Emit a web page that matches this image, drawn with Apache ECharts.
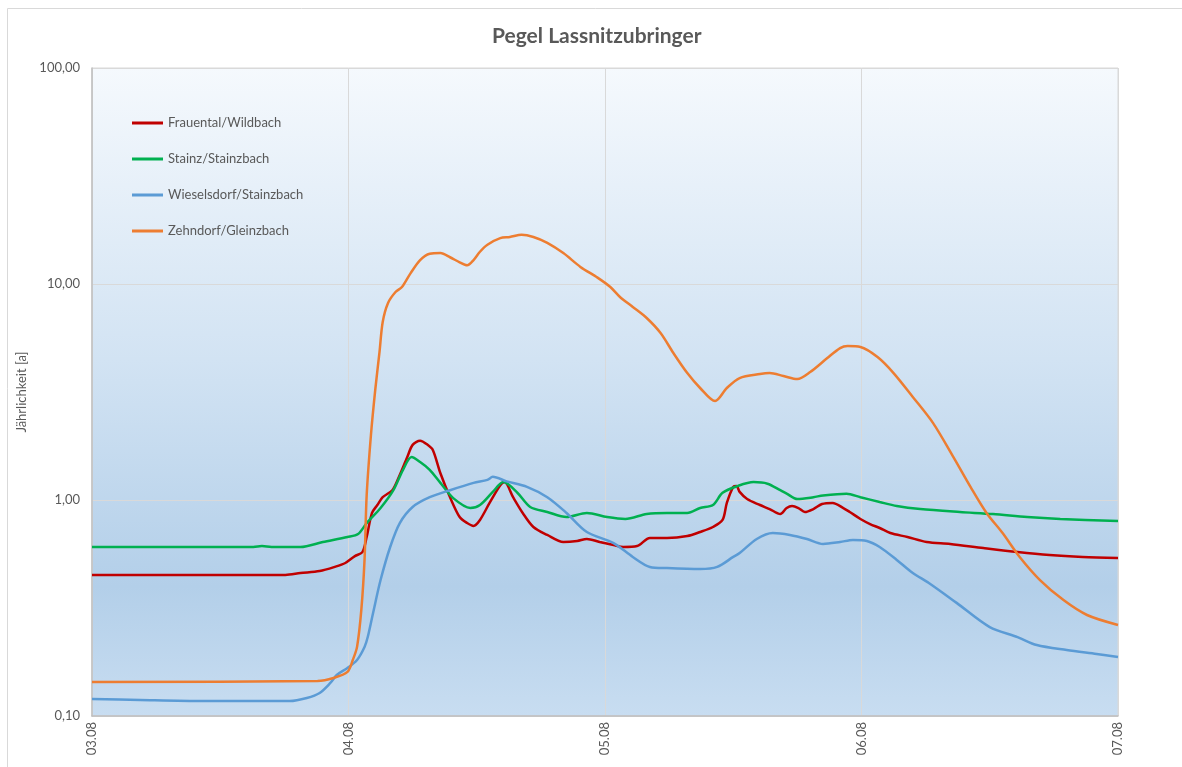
<!DOCTYPE html>
<html>
<head>
<meta charset="utf-8">
<title>Pegel Lassnitzubringer</title>
<script src="https://cdn.jsdelivr.net/npm/echarts@6.0.0/dist/echarts.min.js"></script>
<style>
  html, body { margin: 0; padding: 0; background: #fff; }
  #chart { width: 1182px; height: 767px; }
</style>
</head>
<body>
<div id="chart"></div>
<script>
// Stunden ab 03.08 00:00, Jährlichkeit [a]
const dayLabels = ['03.08', '04.08', '05.08', '06.08', '07.08'];
const seriesNames = ['Frauental/Wildbach', 'Stainz/Stainzbach', 'Wieselsdorf/Stainzbach', 'Zehndorf/Gleinzbach'];

const frauental = [
  [0, 0.45], [18.1, 0.45], [19.5, 0.459], [21.3, 0.469], [22.7, 0.49], [23.7, 0.511], [24.6, 0.55],
  [25.3, 0.574], [25.7, 0.674], [26.2, 0.871], [26.7, 0.948], [27.2, 1.03], [28.1, 1.11], [28.6, 1.24],
  [29.5, 1.58], [30.0, 1.80], [30.7, 1.88], [31.4, 1.80], [31.9, 1.70], [32.6, 1.33], [33.5, 1.03],
  [34.4, 0.834], [35.1, 0.782], [35.7, 0.758], [36.3, 0.808], [37.2, 0.969], [38.2, 1.17], [38.6, 1.21],
  [39.4, 1.03], [40.3, 0.871], [41.3, 0.75], [42.6, 0.689], [44.1, 0.639], [45.4, 0.646], [46.3, 0.66],
  [47.5, 0.639], [48.8, 0.619], [49.7, 0.606], [51.0, 0.612], [52.2, 0.667], [53.8, 0.667], [55.7, 0.681],
  [56.9, 0.711], [58.1, 0.75], [59.0, 0.808], [59.4, 0.969], [60.0, 1.15], [60.3, 1.16], [60.6, 1.09],
  [61.3, 1.01], [62.5, 0.948], [63.4, 0.908], [64.4, 0.861], [65.0, 0.918], [65.5, 0.938], [66.1, 0.918],
  [66.7, 0.88], [67.5, 0.908], [68.3, 0.958], [69.3, 0.969], [70.3, 0.918], [70.9, 0.88], [71.9, 0.817],
  [72.8, 0.774], [73.7, 0.742], [74.7, 0.703], [76.3, 0.674], [78.1, 0.639], [80.3, 0.626], [83.4, 0.599],
  [86.6, 0.574], [89.6, 0.556], [92.7, 0.545], [96, 0.539]
];

const stainz = [
  [0, 0.606], [15.1, 0.606], [15.9, 0.612], [16.8, 0.606], [19.5, 0.606], [21.6, 0.639], [23.9, 0.674],
  [24.9, 0.696], [25.7, 0.782], [27.0, 0.918], [28.2, 1.11], [29.1, 1.38], [29.9, 1.58], [30.7, 1.50],
  [31.6, 1.38], [32.6, 1.20], [33.8, 1.02], [35.4, 0.918], [36.3, 0.948], [37.5, 1.09], [38.5, 1.21],
  [39.8, 1.08], [41.0, 0.928], [42.6, 0.88], [44.4, 0.834], [46.3, 0.871], [48.2, 0.834], [49.9, 0.817],
  [51.9, 0.861], [53.8, 0.871], [55.7, 0.871], [56.9, 0.918], [58.1, 0.948], [59.0, 1.08], [60.4, 1.16],
  [61.9, 1.21], [63.2, 1.19], [64.4, 1.11], [65.0, 1.07], [66.0, 1.01], [67.5, 1.03], [68.4, 1.05],
  [70.6, 1.07], [71.9, 1.03], [73.7, 0.979], [75.3, 0.938], [77.5, 0.908], [81.2, 0.88], [84.3, 0.861],
  [87.5, 0.834], [90.6, 0.817], [96, 0.799]
];

const wieselsdorf = [
  [0, 0.12], [4.5, 0.1186], [10.4, 0.1173], [18.5, 0.1173], [20.1, 0.1212], [21.3, 0.1278], [22.3, 0.1422],
  [22.9, 0.1548], [23.9, 0.1668], [24.8, 0.1817], [25.5, 0.2087], [25.8, 0.232], [26.3, 0.30], [27.0, 0.426],
  [27.9, 0.606], [28.8, 0.782], [30.0, 0.928], [31.6, 1.03], [33.5, 1.11], [35.7, 1.20], [37.0, 1.24],
  [37.5, 1.28], [38.8, 1.22], [40.7, 1.15], [42.6, 1.03], [44.4, 0.871], [46.3, 0.711], [48.8, 0.632],
  [50.6, 0.545], [52.2, 0.49], [53.8, 0.484], [56.9, 0.479], [58.5, 0.49], [60.0, 0.545], [60.6, 0.568],
  [62.2, 0.66], [63.7, 0.703], [65.3, 0.689], [66.9, 0.66], [68.4, 0.626], [70.0, 0.639], [71.2, 0.653],
  [72.5, 0.646], [73.7, 0.606], [75.3, 0.528], [76.8, 0.459], [78.3, 0.413], [80.9, 0.334], [84.0, 0.258],
  [86.6, 0.232], [88.4, 0.213], [91.2, 0.202], [94.0, 0.1936], [96, 0.1875]
];

const zehndorf = [
  [0, 0.1437], [21.1, 0.1452], [22.6, 0.15], [23.9, 0.16], [24.4, 0.1817], [24.8, 0.209], [25.2, 0.31],
  [25.5, 0.528], [25.7, 1.05], [26.1, 2.0], [26.5, 3.23], [26.9, 4.84], [27.2, 6.67], [27.7, 8.17],
  [28.4, 9.18], [29.0, 9.68], [29.8, 11.2], [30.7, 12.9], [31.6, 13.8], [32.6, 13.9], [33.5, 13.3],
  [34.4, 12.6], [35.1, 12.2], [35.7, 12.9], [36.3, 14.1], [37.0, 15.2], [38.2, 16.3], [39.1, 16.5],
  [40.2, 16.9], [41.3, 16.5], [42.6, 15.5], [44.1, 13.9], [45.7, 12.0], [47.3, 10.7], [48.5, 9.68],
  [49.4, 8.71], [50.6, 7.83], [51.9, 6.96], [53.2, 5.93], [54.4, 4.79], [55.7, 3.87], [56.9, 3.30],
  [58.3, 2.87], [59.4, 3.30], [60.6, 3.67], [62.5, 3.83], [63.4, 3.87], [64.7, 3.75], [66.0, 3.63],
  [67.2, 3.91], [68.8, 4.54], [70.0, 5.05], [70.7, 5.16], [71.9, 5.11], [73.5, 4.59], [75.0, 3.87],
  [76.8, 3.0], [78.7, 2.27], [80.6, 1.58], [82.2, 1.15], [83.7, 0.871], [85.2, 0.703], [86.8, 0.545],
  [88.7, 0.426], [90.9, 0.344], [93.1, 0.2935], [96, 0.264]
];

const colors = ['#c00000', '#00b050', '#5b9bd5', '#ed7d31'];
const seriesData = [frauental, stainz, wieselsdorf, zehndorf];

const textColor = '#595959';
const fontFamily = 'Lato, "Open Sans", sans-serif';

const chart = echarts.init(document.getElementById('chart'));

const option = {
  textStyle: { fontFamily: fontFamily },
  title: {
    text: 'Pegel Lassnitzubringer',
    left: 487,
    top: 21,
    textStyle: { fontSize: 21, fontWeight: 'bold', color: textColor, fontFamily: fontFamily }
  },
  graphic: [{
    type: 'rect',
    shape: { x: 7.5, y: 8.5, width: 1200, height: 800 },
    style: { fill: 'none', stroke: '#d9d9d9', lineWidth: 1 },
    silent: true,
    z: -10
  }],
  legend: {
    orient: 'vertical',
    left: 127,
    top: 110,
    icon: 'rect',
    itemWidth: 31,
    itemHeight: 3,
    itemGap: 20,
    data: seriesNames,
    textStyle: { fontSize: 13, color: textColor, lineHeight: 16, fontFamily: fontFamily }
  },
  grid: {
    left: 92,
    top: 68,
    width: 1026,
    height: 648,
    show: true,
    borderColor: '#d9d9d9',
    borderWidth: 1,
    backgroundColor: new echarts.graphic.LinearGradient(0, 0, 0, 1, [
      { offset: 0, color: '#f5f9fd' },
      { offset: 0.45, color: '#d2e3f3' },
      { offset: 0.8, color: '#b3cfe9' },
      { offset: 1, color: '#c8ddf1' }
    ])
  },
  xAxis: {
    type: 'value',
    min: 0,
    max: 96,
    interval: 24,
    axisLine: { show: true, lineStyle: { color: '#bfbfbf', width: 1.5 } },
    axisTick: { show: false },
    splitLine: { show: true, lineStyle: { color: '#d9d9d9', width: 1 } },
    axisLabel: {
      rotate: 90,
      margin: 6,
      fontSize: 13,
      color: textColor,
      fontFamily: fontFamily,
      formatter: function (v) {
        return dayLabels[Math.round(v / 24)] || '';
      }
    }
  },
  yAxis: {
    type: 'log',
    logBase: 10,
    min: 0.1,
    max: 100,
    name: 'Jährlichkeit [a]',
    nameLocation: 'middle',
    nameGap: 60,
    nameRotate: 90,
    nameTextStyle: { fontSize: 13, color: textColor, fontFamily: fontFamily },
    axisLine: { show: true, lineStyle: { color: '#bfbfbf', width: 1.5 } },
    axisTick: { show: false },
    splitLine: { show: true, lineStyle: { color: '#d9d9d9', width: 1 } },
    axisLabel: {
      margin: 12,
      fontSize: 13,
      color: textColor,
      fontFamily: fontFamily,
      formatter: function (v) {
        return v.toFixed(2).replace('.', ',');
      }
    }
  },
  series: seriesNames.map(function (name, i) {
    return {
      name: name,
      type: 'line',
      data: seriesData[i],
      showSymbol: false,
      symbol: 'none',
      smooth: 0.3,
      color: colors[i],
      itemStyle: { color: colors[i] },
      lineStyle: { color: colors[i], width: 2.5 },
      animation: false
    };
  }),
  animation: false
};

chart.setOption(option);
</script>
</body>
</html>
